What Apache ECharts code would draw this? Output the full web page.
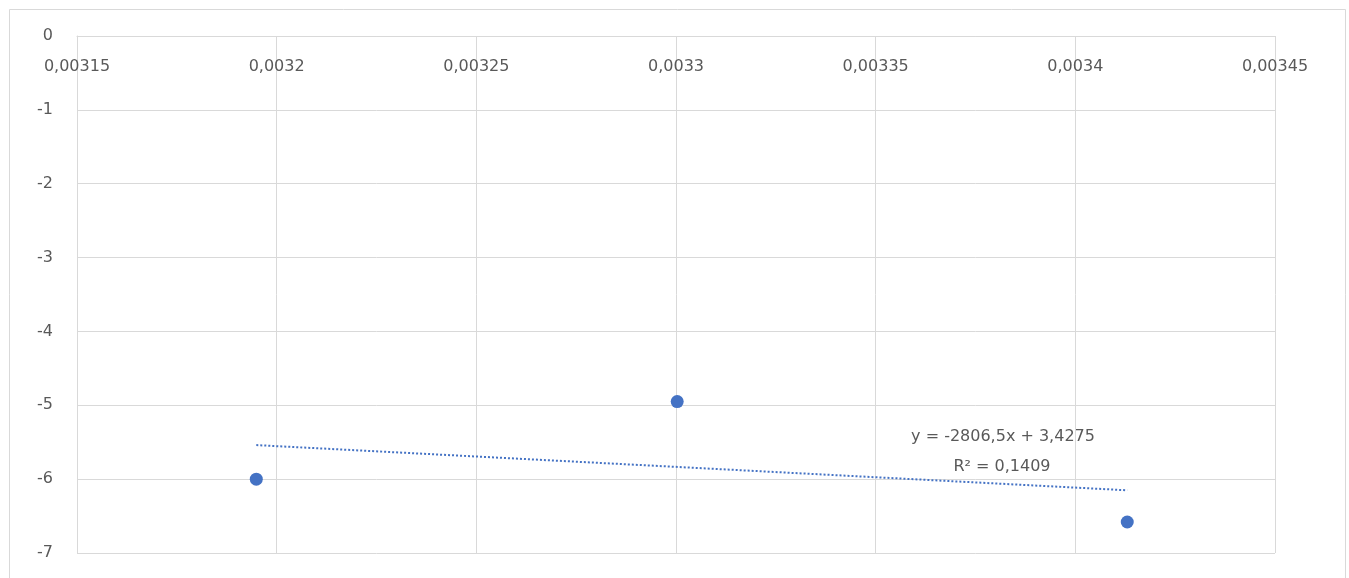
<!DOCTYPE html>
<html>
<head>
<meta charset="utf-8">
<script src="https://cdn.jsdelivr.net/npm/echarts@6/dist/echarts.min.js"></script>
<style>
html,body{margin:0;padding:0;background:#fff;}
#c{width:1349px;height:578px;}
</style>
</head>
<body>
<div id="c"></div>
<script>
// data
var xValues = [0.0031949, 0.0033003, 0.0034130];
var yValues = [-6.00, -4.95, -6.58];
var trendSlope = -2806.5;
var trendIntercept = 3.4275;
var equationText = 'y = -2806,5x + 3,4275';
var r2Text = 'R² = 0,1409';

var points = xValues.map(function (x, i) { return [x, yValues[i]]; });
var tMin = Math.min.apply(null, xValues), tMax = Math.max.apply(null, xValues);
var trend = [[tMin, trendSlope * tMin + trendIntercept], [tMax, trendSlope * tMax + trendIntercept]];

var labelColor = '#595959';
var gridColor = '#d9d9d9';
var font = 'DejaVu Sans';

var chart = echarts.init(document.getElementById('c'));
chart.setOption({
  animation: false,
  backgroundColor: '#fff',
  grid: { left: 77, right: 74, top: 36, bottom: 25, containLabel: false },
  xAxis: {
    type: 'value', position: 'top',
    min: 0.00315, max: 0.00345, interval: 0.00005,
    axisLine: { show: true, lineStyle: { color: gridColor } },
    axisTick: { show: false },
    splitLine: { show: true, lineStyle: { color: gridColor, width: 1 } },
    axisLabel: {
      inside: true, margin: 23, color: labelColor, fontSize: 16, fontFamily: font,
      showMinLabel: true, showMaxLabel: true,
      formatter: function (v) { return String(Number(v.toPrecision(6))).replace('.', ','); }
    }
  },
  yAxis: {
    type: 'value', min: -7, max: 0, interval: 1,
    axisLine: { show: true, lineStyle: { color: gridColor } },
    axisTick: { show: false },
    splitLine: { show: true, lineStyle: { color: gridColor, width: 1 } },
    axisLabel: { margin: 24, color: labelColor, fontSize: 16, fontFamily: font }
  },
  series: [
    {
      type: 'line', data: trend, showSymbol: false, symbol: 'none',
      lineStyle: { color: '#4472C4', width: 2, type: [2, 2] }, z: 2
    },
    {
      type: 'scatter', data: points, symbol: 'circle', symbolSize: 13,
      itemStyle: { color: '#4472C4', opacity: 1 }, z: 3
    }
  ],
  graphic: [
    { type: 'rect', left: 7, top: 7, shape: { width: 1336, height: 580 },
      style: { fill: 'none', stroke: '#d9d9d9', lineWidth: 1 }, silent: true },
    { type: 'text', x: 1003, y: 437,
      style: { text: equationText, fill: labelColor, font: '16px ' + font, align: 'center', verticalAlign: 'middle' } },
    { type: 'text', x: 1002, y: 467,
      style: { text: r2Text, fill: labelColor, font: '16px ' + font, align: 'center', verticalAlign: 'middle' } }
  ]
});
</script>
</body>
</html>
